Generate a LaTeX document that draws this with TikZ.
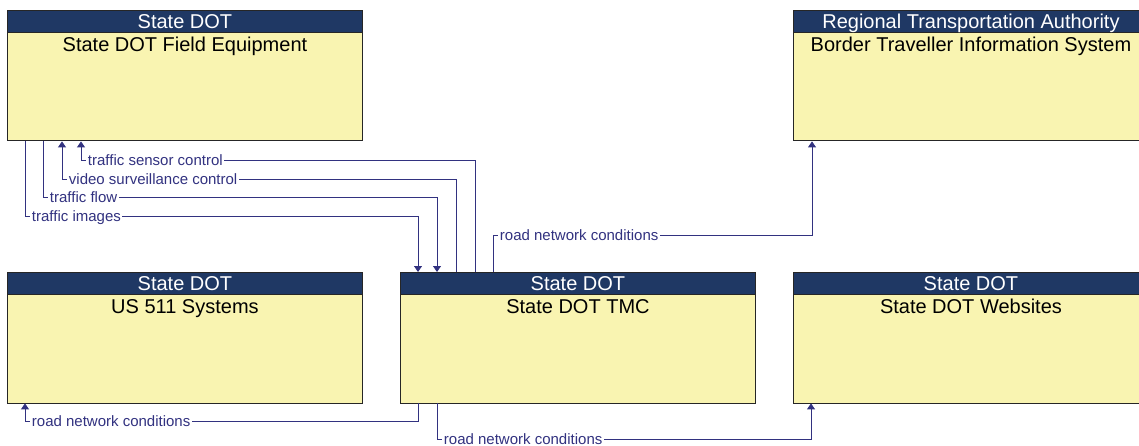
\documentclass[tikz,border=0pt]{standalone}
\usepackage{fontspec}
\setmainfont{Liberation Sans}
\usetikzlibrary{arrows.meta,positioning}

\definecolor{hdrblue}{RGB}{31,56,100}
\definecolor{boxfill}{RGB}{249,244,177}
\definecolor{flowblue}{RGB}{50,50,128}

\begin{document}
\begin{tikzpicture}[
  x = 1pt, y = -1pt,
  > = {Triangle[length=6pt,width=8pt]},
  sys/.style = {draw=black!85,line width=0.9pt,fill=boxfill,anchor=north west,minimum width=355pt,minimum height=130.5pt,inner sep=0pt},
  owner/.style = {draw=black!85,line width=0.9pt,fill=hdrblue,text=white,anchor=north west,minimum width=355pt,minimum height=22pt,inner sep=0pt,text height=14.3pt,text depth=0pt,font=\fontsize{20}{24}\selectfont},
  sysname/.style = {inner sep=0pt,text height=14.5pt,text depth=4pt,font=\fontsize{20}{24}\selectfont},
  flow/.style = {draw=flowblue,line width=0.9pt},
  lbl/.style = {anchor=west,fill=white,text=flowblue,inner xsep=1.5pt,inner ysep=1pt,xshift=5pt,text height=10.7pt,text depth=0pt,font=\fontsize{15}{18}\selectfont}
  ]
  \useasboundingbox (0,0) rectangle (1139,446);
  \clip (0,0) rectangle (1139,446);

  % top row
  \node[sys] (fe) at (7,10) {};
  \node[owner] (fe-hdr) at (7,10) {State DOT};
  \node[sysname,below=3.5pt of fe-hdr] (fe-name) {State DOT Field Equipment};

  \node[sys] (bts) at (793,10) {};
  \node[owner] (bts-hdr) at (793,10) {Regional Transportation Authority};
  \node[sysname,below=3.5pt of bts-hdr] (bts-name) {Border Traveller Information System};

  % bottom row
  \node[sys] (us) at (7,272) {};
  \node[owner] (us-hdr) at (7,272) {State DOT};
  \node[sysname,below=3.5pt of us-hdr] (us-name) {US 511 Systems};

  \node[sys] (tmc) at (400,272) {};
  \node[owner] (tmc-hdr) at (400,272) {State DOT};
  \node[sysname,below=3.5pt of tmc-hdr] (tmc-name) {State DOT TMC};

  \node[sys] (web) at (793,272) {};
  \node[owner] (web-hdr) at (793,272) {State DOT};
  \node[sysname,below=3.5pt of web-hdr] (web-name) {State DOT Websites};

  % flows between field equipment and TMC
  \draw[flow,->] (fe.south -| 25,0) -- (25,216) node[lbl] {traffic images} -| (tmc.north -| 418,0);
  \draw[flow,->] (fe.south -| 43,0) -- (43,197) node[lbl] {traffic flow} -| (tmc.north -| 437,0);
  \draw[flow,->] (tmc.north -| 456,0) |- (62,179) node[lbl] {video surveillance control} -- (fe.south -| 62,0);
  \draw[flow,->] (tmc.north -| 475,0) |- (81,160) node[lbl] {traffic sensor control} -- (fe.south -| 81,0);

  % road network conditions out of the TMC
  \draw[flow,->] (tmc.north -| 493,0) -- (493,235) node[lbl] {road network conditions} -| (bts.south -| 812,0);
  \draw[flow,->] (tmc.south -| 418,0) |- (25,421) node[lbl] {road network conditions} -- (us.south -| 25,0);
  \draw[flow,->] (tmc.south -| 437,0) -- (437,439) node[lbl] {road network conditions} -| (web.south -| 811,0);
\end{tikzpicture}
\end{document}
